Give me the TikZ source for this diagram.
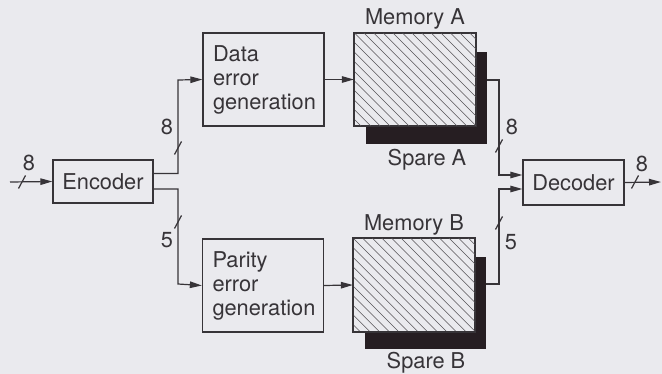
\documentclass[tikz,border=0pt]{standalone}
\usepackage{fontspec}
\setmainfont{TeX Gyre Heros}
\usetikzlibrary{arrows.meta,calc}

\definecolor{paper}{RGB}{234,234,238}
\definecolor{ink}{RGB}{55,52,56}
\definecolor{shade}{RGB}{38,30,34}

\tikzset{
  every node/.style={font=\fontsize{21.8}{24}\selectfont, text=ink},
  block/.style={draw=ink, line width=1.3pt, fill=paper, inner sep=0pt},
  textblock/.style={block, align=left, text width=101pt, inner xsep=10pt},
  memblock/.style={draw=ink, line width=1.3pt, minimum width=121pt, minimum height=93pt, inner sep=0pt},
  spareblock/.style={fill=shade, minimum width=121pt, minimum height=92pt, inner sep=0pt},
  wire/.style={draw=ink, line width=1.2pt},
  flow/.style={wire, -{Triangle[length=12pt,width=6.5pt]}},
  hatchline/.style={draw=ink!85, line width=0.55pt},
  lbl/.style={inner sep=0pt},
  busmark/.pic={\draw[ink, line width=1.2pt] (-3.5,6.5) -- (3.5,-6.5);}
}

\begin{document}
\begin{tikzpicture}[x=1pt, y=-1pt]
  % canvas
  \fill[paper] (0,0) rectangle (662,374);
  \useasboundingbox (0,0) rectangle (662,374);

  % spare memories (drawn first, behind the main memories)
  \node[spareblock] (spA) at (426.5,98.5) {};
  \node[spareblock] (spB) at (425.5,303) {};

  % processing blocks
  \node[block, minimum width=100pt, minimum height=43pt] (enc) at (103,181.5) {Encoder};
  \node[block, minimum width=101pt, minimum height=45pt] (dec) at (573.5,182.5) {Decoder};
  \node[textblock, minimum height=93pt] (deg) at (263.5,79.5) {Data\\error\\generation};
  \node[textblock, minimum height=93pt] (peg) at (263,285.5) {Parity\\error\\generation};

  % main memories with diagonal hatching
  \node[memblock, fill=paper] (mA) at (415,79.5) {};
  \node[memblock, fill=paper] (mB) at (414,285) {};
  \foreach \m in {mA,mB}{
    \begin{scope}
      \clip (\m.north west) rectangle (\m.south east);
      \foreach \k in {-10,...,13}
        \draw[hatchline] ([xshift=\k*9.6pt]\m.north west) -- ++(110,110);
    \end{scope}
    \draw[draw=ink, line width=1.3pt] (\m.north west) rectangle (\m.south east);
  }

  % labels of the memories
  \node[lbl] (lmA) at (415,19) {Memory A};
  \node[lbl] (lsA) at (427,160) {Spare A};
  \node[lbl] (lmB) at (414,225) {Memory B};
  \node[lbl] (lsB) at (426,363) {Spare B};

  % free ends of the input and output lines
  \coordinate (in) at (10,182);
  \coordinate (out) at (661,182);

  % input and output
  \draw[flow] (in) -- (enc.west);
  \draw[flow] (dec.east) -- (out);

  % encoder to the two error generators
  \draw[flow] ([yshift=8pt]enc.east) -| (178,80) -- (deg.west);
  \draw[flow] ([yshift=-7.5pt]enc.east) -| (178,284) -- (peg.west);

  % error generators to memories
  \draw[flow] (deg.east) -- (mA.west);
  \draw[flow] (peg.east) -- (mB.west);

  % memories to decoder
  \draw[flow] (spA.east |- 0,80) -| (499,175) -- ([yshift=7.5pt]dec.west);
  \draw[flow] (spB.east |- 0,284) -| (499,189) -- ([yshift=-6.5pt]dec.west);

  % bus width marks
  \pic at (22,182) {busmark};
  \pic at (178,148) {busmark};
  \pic at (178,222) {busmark};
  \pic at (499,146) {busmark};
  \pic at (499,223) {busmark};
  \pic at (635,182) {busmark};

  % bus widths
  \node[lbl] (w1) at (29,163) {8};
  \node[lbl] (w2) at (167,127) {8};
  \node[lbl] (w3) at (167,240) {5};
  \node[lbl] (w4) at (512,127) {8};
  \node[lbl] (w5) at (511,242) {5};
  \node[lbl] (w6) at (642,164) {8};
\end{tikzpicture}
\end{document}
